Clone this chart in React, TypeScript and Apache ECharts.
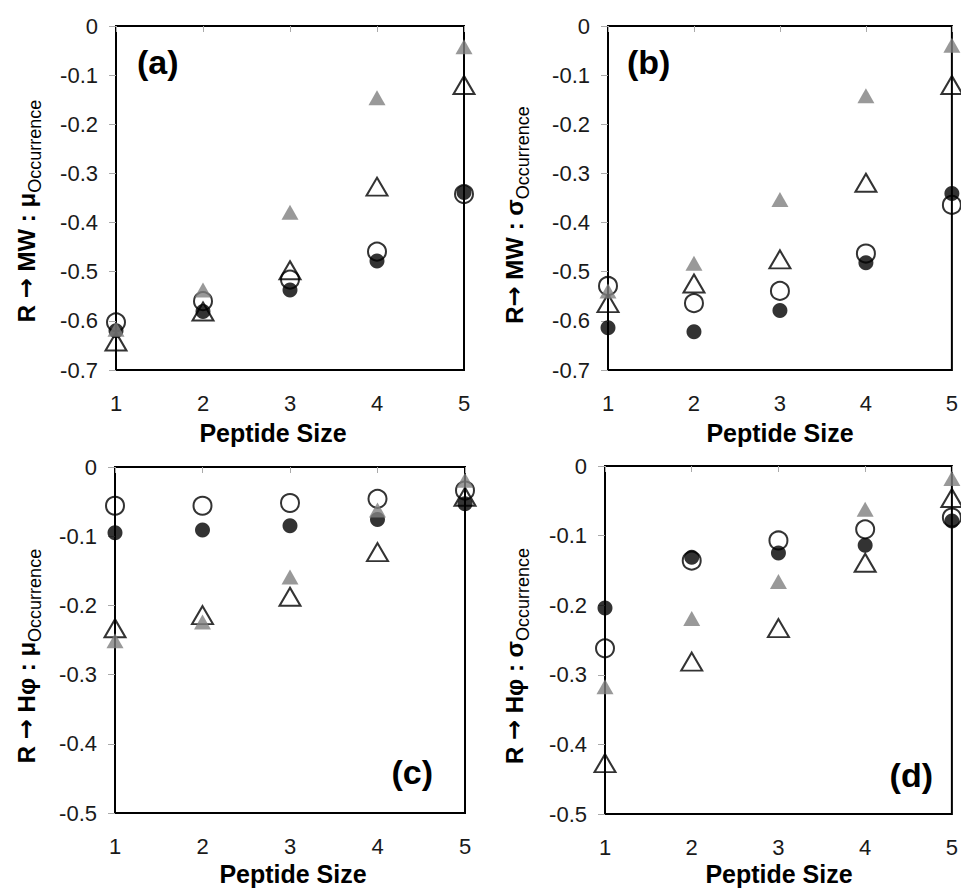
import React, { useEffect, useRef } from "react";
import * as echarts from "echarts";

const peptideSizes = [1, 2, 3, 4, 5];

// Panel (a): R -> MW : mu
const aOpenCircle = [-0.603, -0.56, -0.516, -0.459, -0.342];
const aFilledCircle = [-0.62, -0.581, -0.537, -0.478, -0.339];
const aOpenTriangle = [-0.642, -0.581, -0.497, -0.327, -0.12];
const aGrayTriangle = [-0.617, -0.537, -0.379, -0.146, -0.042];

// Panel (b): R -> MW : sigma
const bOpenCircle = [-0.529, -0.564, -0.539, -0.463, -0.364];
const bFilledCircle = [-0.614, -0.622, -0.579, -0.482, -0.341];
const bOpenTriangle = [-0.564, -0.524, -0.475, -0.319, -0.12];
const bGrayTriangle = [-0.539, -0.483, -0.353, -0.142, -0.039];

// Panel (c): R -> Hphi : mu
const cOpenCircle = [-0.056, -0.056, -0.052, -0.046, -0.034];
const cFilledCircle = [-0.095, -0.091, -0.085, -0.076, -0.053];
const cOpenTriangle = [-0.233, -0.214, -0.1875, -0.123, -0.043];
const cGrayTriangle = [-0.251, -0.224, -0.159, -0.062, -0.019];

// Panel (d): R -> Hphi : sigma
const dOpenCircle = [-0.262, -0.136, -0.107, -0.091, -0.074];
const dFilledCircle = [-0.204, -0.131, -0.125, -0.114, -0.079];
const dOpenTriangle = [-0.427, -0.281, -0.233, -0.139, -0.046];
const dGrayTriangle = [-0.317, -0.219, -0.166, -0.062, -0.018];

const panelLabels = ["(a)", "(b)", "(c)", "(d)"];
const yTitleBefore = ["R ", "R", "R ", "R "];
const yTitleAfter = [" MW : \u03bc", " MW : \u03c3", " H\u03c6 : \u03bc", " H\u03c6 : \u03c3"];
const yTitleArrow = "\u2192";
const yTitleSub = "Occurrence";
const xTitle = "Peptide Size";
const yMins = [-0.7, -0.7, -0.5, -0.5];

const FONT = '"Liberation Sans", Arial, Helvetica, sans-serif';
const ARROW_FONT = '"DejaVu Sans", sans-serif';

const grids = [
  { left: 116, top: 26, width: 348, height: 344 },
  { left: 608, top: 26, width: 349, height: 344 },
  { left: 115, top: 467, width: 350, height: 346 },
  { left: 605, top: 466, width: 352, height: 348 },
];
const labelPos = [
  { x: 137, y: 62, align: "left" },
  { x: 627, y: 62, align: "left" },
  { x: 433, y: 772, align: "right" },
  { x: 933, y: 775, align: "right" },
];
const yTitlePos = [
  { x: 26, y: 211 },
  { x: 514, y: 215 },
  { x: 26, y: 656 },
  { x: 514, y: 656 },
];
const xTitlePos = [
  { x: 273, y: 433 },
  { x: 780, y: 433 },
  { x: 293, y: 874 },
  { x: 779, y: 874 },
];

const panels = [
  [aOpenTriangle, aOpenCircle, aFilledCircle, aGrayTriangle],
  [bOpenTriangle, bOpenCircle, bFilledCircle, bGrayTriangle],
  [cOpenTriangle, cOpenCircle, cFilledCircle, cGrayTriangle],
  [dOpenTriangle, dOpenCircle, dFilledCircle, dGrayTriangle],
];

const markerStyles = [
  { name: "Open triangle", symbol: "triangle", symbolSize: [21, 18], itemStyle: { color: "rgba(0,0,0,0)", borderColor: "#000", borderWidth: 2 } },
  { name: "Open circle", symbol: "circle", symbolSize: 18, itemStyle: { color: "rgba(0,0,0,0)", borderColor: "#000", borderWidth: 2 } },
  { name: "Filled circle", symbol: "circle", symbolSize: 15, itemStyle: { color: "#000", borderWidth: 0 } },
  { name: "Gray triangle", symbol: "triangle", symbolSize: [17, 15], itemStyle: { color: "#7f7f7f", borderWidth: 0 } },
];

export default function App() {
  const ref = useRef<HTMLDivElement>(null);

  useEffect(() => {
    if (!ref.current) return;
    const chart = echarts.init(ref.current, undefined, { renderer: "svg" });

    const grid = grids.map((g) => ({
      ...g,
      show: true,
      borderColor: "#000",
      borderWidth: 2,
      backgroundColor: "transparent",
      containLabel: false,
    }));

    const xAxis = grids.map((_, i) => ({
      type: "value",
      gridIndex: i,
      min: 1,
      max: 5,
      interval: 1,
      axisLine: { show: false },
      axisTick: { show: true, length: 6, lineStyle: { color: "#aaa", width: 1 } },
      splitLine: { show: false },
      axisLabel: { margin: 22, fontSize: 22, fontFamily: FONT, color: "#1a1a1a" },
    }));

    const yAxis = grids.map((_, i) => ({
      type: "value",
      gridIndex: i,
      min: yMins[i],
      max: 0,
      interval: 0.1,
      axisLine: { show: false },
      axisTick: { show: true, length: 7, lineStyle: { color: "#aaa", width: 1 } },
      splitLine: { show: false },
      axisLabel: { margin: 18, fontSize: 22, fontFamily: FONT, color: "#1a1a1a" },
    }));

    const series: any[] = [];
    panels.forEach((arrs, pi) => {
      arrs.forEach((vals, si) => {
        const m = markerStyles[si];
        series.push({
          type: "scatter",
          name: m.name,
          xAxisIndex: pi,
          yAxisIndex: pi,
          symbol: m.symbol,
          symbolSize: m.symbolSize,
          itemStyle: m.itemStyle,
          clip: false,
          z: 2 + si,
          data: peptideSizes.map((x, k) => [x, vals[k]]),
        });
      });
    });

    const graphic: any[] = [];
    panelLabels.forEach((t, i) => {
      graphic.push({
        type: "text",
        x: labelPos[i].x,
        y: labelPos[i].y,
        style: {
          text: t,
          font: `bold 34px ${FONT}`,
          fill: "#000",
          align: labelPos[i].align,
          textAlign: labelPos[i].align,
          verticalAlign: "middle",
          textVerticalAlign: "middle",
        },
      });
      graphic.push({
        type: "text",
        x: xTitlePos[i].x,
        y: xTitlePos[i].y,
        style: {
          text: xTitle,
          font: `bold 25px ${FONT}`,
          fill: "#000",
          align: "center",
          textAlign: "center",
          verticalAlign: "middle",
          textVerticalAlign: "middle",
        },
      });
      graphic.push({
        type: "text",
        x: yTitlePos[i].x,
        y: yTitlePos[i].y,
        rotation: Math.PI / 2,
        style: {
          text: `{m|${yTitleBefore[i]}}{a|${yTitleArrow}}{m|${yTitleAfter[i]}}{s|${yTitleSub}}`,
          fill: "#000",
          align: "center",
          textAlign: "center",
          verticalAlign: "middle",
          textVerticalAlign: "middle",
          rich: {
            m: { font: `bold 24px ${FONT}`, lineHeight: 36, fill: "#000" },
            a: { font: `bold 24px ${ARROW_FONT}`, lineHeight: 36, fill: "#000" },
            s: { font: `18px ${FONT}`, lineHeight: 18, verticalAlign: "bottom", fill: "#000" },
          },
        },
      });
    });

    chart.setOption({
      animation: false,
      backgroundColor: "#fff",
      grid,
      xAxis,
      yAxis,
      series,
      graphic,
    });

    return () => chart.dispose();
  }, []);

  return (
    <div
      ref={ref}
      style={{ position: "absolute", left: 0, top: 0, width: 961, height: 890 }}
    />
  );
}
